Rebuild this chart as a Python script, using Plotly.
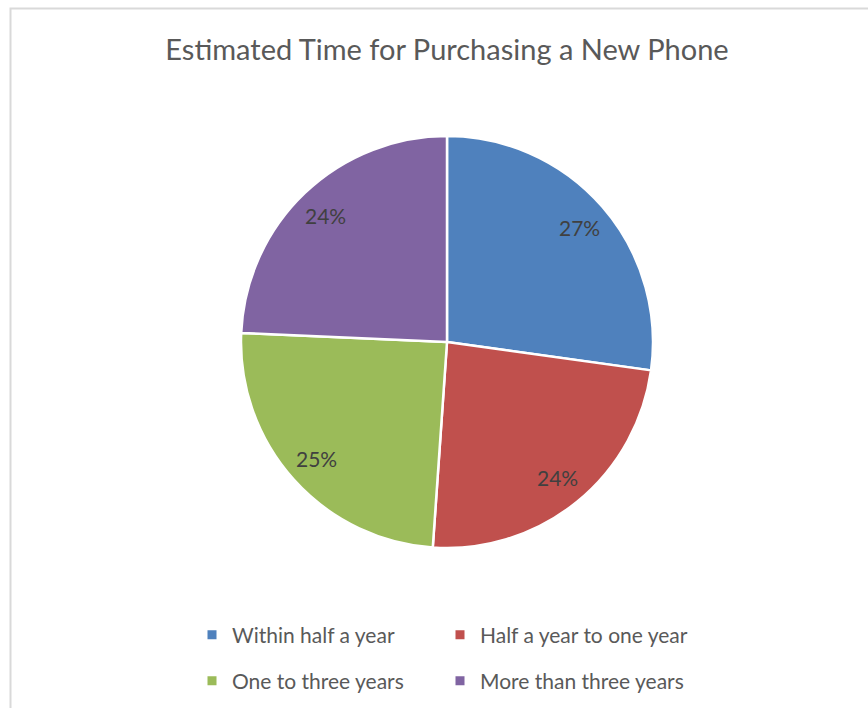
import math
import plotly.graph_objects as go

# ---- data ----
categories = ["Within half a year", "Half a year to one year", "One to three years", "More than three years"]
shares = [27.2, 23.9, 24.6, 24.3]
colors = ["#4F81BD", "#C0504D", "#9BBB59", "#8064A2"]
title_text = "Estimated Time for Purchasing a New Phone"

W, H = 868, 708
CX, CY, R = 447, 342, 206  # pie centre/radius in px

fig = go.Figure()

fig.add_trace(go.Pie(
    labels=categories,
    values=shares,
    sort=False,
    direction="clockwise",
    rotation=0,
    marker=dict(colors=colors, line=dict(color="white", width=2.5)),
    textinfo="none",
    hoverinfo="label+percent",
    showlegend=False,
    domain=dict(x=[(CX - R) / W, (CX + R) / W], y=[1 - (CY + R) / H, 1 - (CY - R) / H]),
))

# legend entries (two rows, two columns)
for i, (cat, col) in enumerate(zip(categories, colors)):
    fig.add_trace(go.Scatter(
        x=[None], y=[None], mode="markers", name=cat,
        marker=dict(symbol="square", size=9, color=col),
        legend="legend" if i < 2 else "legend2",
        hoverinfo="skip",
    ))

# percentage labels, placed along the slice bisectors
total = sum(shares)
cum = 0.0
annotations = []
for v in shares:
    mid = (cum + v / 2) / total * 2 * math.pi
    cum += v
    r = 0.85 * R
    px = CX + r * math.sin(mid)
    py = CY - r * math.cos(mid)
    annotations.append(dict(
        x=px / W, y=1 - py / H, xref="paper", yref="paper",
        text=f"{round(v / total * 100)}%", showarrow=False,
        font=dict(family="Lato, Carlito, Calibri, sans-serif", size=21, color="#404040"),
        xanchor="center", yanchor="middle",
    ))

legend_common = dict(
    orientation="h",
    font=dict(family="Lato, Carlito, Calibri, sans-serif", size=21, color="#595959"),
    bgcolor="rgba(0,0,0,0)",
    entrywidth=203, entrywidthmode="pixels",
    xanchor="left", yanchor="middle",
    itemclick=False, itemdoubleclick=False,
)

fig.update_layout(
    width=W, height=H,
    margin=dict(l=0, r=0, t=0, b=0),
    paper_bgcolor="white",
    plot_bgcolor="white",
    title=dict(
        text=title_text, x=CX / W, xanchor="center", y=1 - 50 / H, yanchor="middle",
        xref="paper", yref="paper",
        font=dict(family="Lato, Carlito, Calibri, sans-serif", size=29, color="#595959"),
    ),
    xaxis=dict(visible=False),
    yaxis=dict(visible=False),
    legend=dict(x=192 / W, y=1 - 635 / H, **legend_common),
    legend2=dict(x=192 / W, y=1 - 681 / H, **legend_common),
    annotations=annotations,
    shapes=[dict(
        type="rect", xref="paper", yref="paper",
        x0=10.5 / W, x1=1.05, y0=-0.05, y1=1 - 8.5 / H,
        line=dict(color="#D9D9D9", width=2), fillcolor="rgba(0,0,0,0)", layer="below",
    )],
)

fig.write_html("out.html")
